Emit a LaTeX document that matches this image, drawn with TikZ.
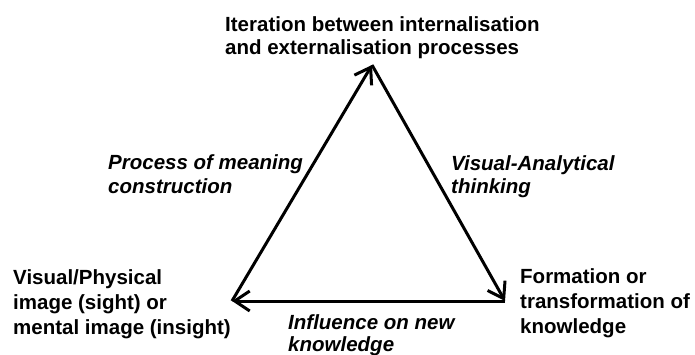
\documentclass[tikz,border=0pt]{standalone}
\usepackage{fontspec}
\setmainfont{Liberation Sans}
\usetikzlibrary{arrows.meta}
\begin{document}
\begin{tikzpicture}[x=1pt,y=-1pt,
  lbl/.style={inner sep=0pt,anchor=north west,align=left,font=\bfseries\fontsize{20.5}{25}\selectfont},
  ilbl/.style={inner sep=0pt,anchor=north west,align=left,font=\bfseries\itshape\fontsize{20.5}{23.5}\selectfont},
  edge/.style={line width=3pt,-{Straight Barb[length=15pt,width=20pt]}}]
\useasboundingbox (0,0) rectangle (695,355);
\coordinate (T) at (372,65);
\coordinate (L) at (232,301);
\coordinate (R) at (505,301);
\draw[edge] (L) -- (T);
\draw[edge] (T) -- (R);
\draw[edge] (R) -- (L);
\node[lbl,font=\bfseries\fontsize{20.5}{22.5}\selectfont] (top) at (225,16.5) {Iteration between internalisation\\and externalisation processes};
\node[lbl] (left) at (13,269) {Visual/Physical\\image (sight) or\\mental image (insight)};
\node[lbl] (right) at (520,268) {Formation or\\transformation of\\knowledge};
\node[ilbl,font=\bfseries\itshape\fontsize{20.5}{24}\selectfont] (pm) at (108,154) {Process of meaning\\construction};
\node[ilbl] (va) at (451,155) {Visual-Analytical\\thinking};
\node[ilbl,font=\bfseries\itshape\fontsize{20.5}{22}\selectfont] (inf) at (288,314) {Influence on new\\knowledge};
\end{tikzpicture}
\end{document}
